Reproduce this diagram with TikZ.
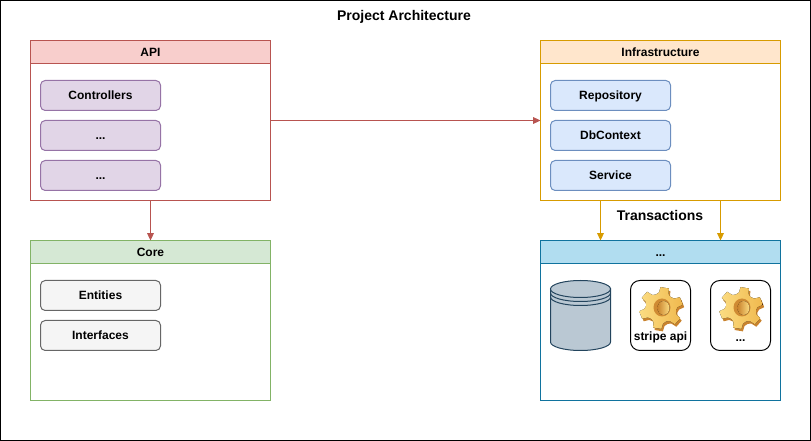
\documentclass[tikz,border=0pt]{standalone}
\usepackage{fontspec}
\setmainfont{Liberation Sans}
\usetikzlibrary{arrows.meta}

\definecolor{apiline}{HTML}{B85450}
\definecolor{apifill}{HTML}{F8CECC}
\definecolor{itemline}{HTML}{9673A6}
\definecolor{itemfill}{HTML}{E1D5E7}
\definecolor{infraline}{HTML}{D79B00}
\definecolor{infrafill}{HTML}{FFE6CC}
\definecolor{repoline}{HTML}{6C8EBF}
\definecolor{repofill}{HTML}{DAE8FC}
\definecolor{coreline}{HTML}{82B366}
\definecolor{corefill}{HTML}{D5E8D4}
\definecolor{entline}{HTML}{666666}
\definecolor{entfill}{HTML}{F5F5F5}
\definecolor{extline}{HTML}{10739E}
\definecolor{extfill}{HTML}{B1DDF0}
\definecolor{dbline}{HTML}{23445D}
\definecolor{dbfill}{HTML}{BAC8D3}
\definecolor{gearlight}{HTML}{FBDC82}
\definecolor{gearmid}{HTML}{F0B94E}
\definecolor{geardark}{HTML}{C9832E}

\newcommand{\gearpath}{(-111:15) \foreach \a in {-80,-20,...,220} {
    -- (\a-31:15) -- (\a-17:16.5) -- (\a-11:22) -- (\a+11:22) -- (\a+17:16.5) -- (\a+29:15)
  } -- cycle}

\tikzset{
  x=0.75pt, y=-0.75pt,
  every node/.style={font=\fontsize{9}{11}\selectfont\bfseries, inner sep=0pt, outer sep=0pt,
    text height=6pt, text depth=0pt},
  body/.style={draw=#1, line width=0.75pt, minimum width=180pt, minimum height=120pt},
  head/.style 2 args={draw=#1, fill=#2, line width=0.75pt, minimum width=180pt,
    minimum height=17.25pt, text height=7.5pt},
  item/.style 2 args={draw=#1, fill=#2, line width=0.75pt, rounded corners=3.5pt,
    minimum width=90pt, minimum height=22.5pt},
  iconbox/.style={draw=black, line width=0.75pt, rounded corners=7pt,
    minimum width=45pt, minimum height=52.5pt},
  bigtext/.style={font=\fontsize{10.5}{12}\selectfont\bfseries, text height=7.5pt},
  dbpart/.style={draw=dbline, line width=0.75pt},
  link/.style={draw=#1, line width=0.75pt, -{Triangle[length=5.5pt,width=5pt]}},
  pics/gearicon/.style={code={
    \fill[geardark, shift={(1.5,2.5)}, yscale=0.95] \gearpath;
    \fill[left color=gearlight, right color=gearmid, yscale=0.95] \gearpath;
    \fill[geardark!85!gearmid] (1,-0.5) ellipse (8.5 and 9);
    \fill[left color=geardark, right color=gearlight] (2.5,0) ellipse (6 and 7);
  }},
}

\begin{document}
\begin{tikzpicture}
  \useasboundingbox (0,0) rectangle (811,441);
  \draw[line width=0.75pt] (0.5,0.5) rectangle (810.5,440.5);

  \node[bigtext] (title) at (404,16) {Project Architecture};

  % api
  \node[body=apiline] (api) at (150.5,120.5) {};
  \node[head={apiline}{apifill}] (apihead) at (150.5,52) {API};
  \node[item={itemline}{itemfill}] (ctrl) at (100.5,95.5) {Controllers};
  \node[item={itemline}{itemfill}] (apia) at (100.5,135.5) {...};
  \node[item={itemline}{itemfill}] (apib) at (100.5,175.5) {...};

  % infrastructure
  \node[body=infraline] (infra) at (660.5,120.5) {};
  \node[head={infraline}{infrafill}] (infrahead) at (660.5,52) {Infrastructure};
  \node[item={repoline}{repofill}] (repo) at (610.5,95.5) {Repository};
  \node[item={repoline}{repofill}] (dbctx) at (610.5,135.5) {DbContext};
  \node[item={repoline}{repofill}] (svc) at (610.5,175.5) {Service};

  % core
  \node[body=coreline] (core) at (150.5,320.5) {};
  \node[head={coreline}{corefill}] (corehead) at (150.5,252) {Core};
  \node[item={entline}{entfill}] (ent) at (100.5,295.5) {Entities};
  \node[item={entline}{entfill}] (ifc) at (100.5,335.5) {Interfaces};

  % external
  \node[body=extline] (ext) at (660.5,320.5) {};
  \node[head={extline}{extfill}] (exthead) at (660.5,252) {...};

  \draw[dbpart, fill=dbfill] (550.5,289) -- (550.5,342)
        arc[start angle=180, end angle=0, x radius=30, y radius=8.5] -- (610.5,289) -- cycle;
  \draw[dbpart, fill=dbfill] (580.5,289) ellipse (30 and 8.5);
  \draw[dbpart] (550.5,293) arc[start angle=180, end angle=0, x radius=30, y radius=8.5];
  \draw[dbpart] (550.5,297) arc[start angle=180, end angle=0, x radius=30, y radius=8.5];

  \node[iconbox] (stripe) at (660.5,315.5) {};
  \node[iconbox] (other) at (740.5,315.5) {};
  \pic (gearone) at (661,308) {gearicon};
  \pic (geartwo) at (741,308) {gearicon};
  \node (stripelbl) at (660.5,337) {stripe api};
  \node (otherlbl) at (740.5,338) {...};

  \draw[link=apiline] (api.east) -- (infra.west);
  \draw[link=apiline] (api.south) -- (corehead.north);
  \draw[link=infraline] ([xshift=-45pt]infra.south) -- ([xshift=-45pt]exthead.north);
  \draw[link=infraline] ([xshift=45pt]infra.south) -- ([xshift=45pt]exthead.north);
  \node[bigtext] (trans) at (660,216) {Transactions};
\end{tikzpicture}
\end{document}
